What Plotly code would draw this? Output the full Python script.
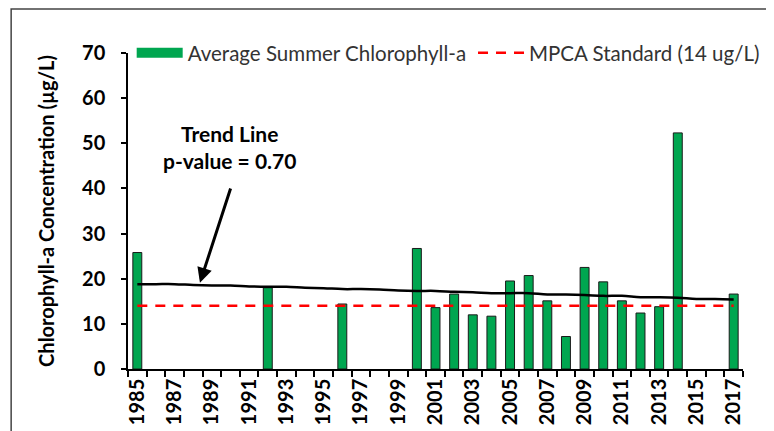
import plotly.graph_objects as go

# ---- data ----
bar_years = [1985, 1992, 1996, 2000, 2001, 2002, 2003, 2004, 2005, 2006, 2007,
             2008, 2009, 2010, 2011, 2012, 2013, 2014, 2017]
chla = [25.8, 18.0, 14.4, 26.7, 13.6, 16.6, 12.0, 11.7, 19.5, 20.7, 15.1,
        7.2, 22.5, 19.3, 15.1, 12.4, 13.8, 52.3, 16.6]

trend_years = list(range(1985, 2018))
trend = [18.8, 18.8, 18.8, 18.6, 18.5, 18.5, 18.3, 18.2, 18.2, 18.0, 17.9,
         17.7, 17.7, 17.6, 17.4, 17.3, 17.3, 17.1, 17.0, 16.8, 16.8, 16.8,
         16.5, 16.5, 16.4, 16.2, 16.2, 15.9, 15.9, 15.8, 15.5, 15.5, 15.4]

std_years = [1985, 2017]
std_value = [14, 14]

tick_years = list(range(1985, 2018, 2))
tick_text = [str(y) for y in tick_years]

FONT = "Lato"
GREEN = "#00A650"

fig = go.Figure()
fig.add_trace(go.Bar(
    x=bar_years, y=chla, name="Average Summer Chlorophyll-a", showlegend=False,
    legendgroup="chla",
    width=0.48, marker=dict(color=GREEN, line=dict(color="#1a1a1a", width=1)),
))
# legend swatch for the bars (wide rectangle like the original)
fig.add_trace(go.Scatter(
    x=[None], y=[None], mode="lines", name="Average Summer Chlorophyll-a",
    legendgroup="chla", legend="legend", line=dict(color=GREEN, width=11),
))
fig.add_trace(go.Scatter(
    x=trend_years, y=trend, mode="lines", showlegend=False,
    line=dict(color="black", width=2.5, shape="spline"),
))
fig.add_trace(go.Scatter(
    x=std_years, y=std_value, mode="lines", name="MPCA Standard (14 ug/L)",
    legend="legend2",
    line=dict(color="#FF0000", width=2.5, dash="10px,8px"),
))

legend_common = dict(orientation="h", xanchor="left", y=1.0, yanchor="middle",
                     bgcolor="rgba(0,0,0,0)", font=dict(size=20.5, color="#333333"),
                     itemwidth=46)

fig.update_layout(
    width=774, height=431,
    margin=dict(l=120, r=39, t=45, b=70),
    paper_bgcolor="white", plot_bgcolor="white",
    font=dict(family=FONT, color="black"),
    showlegend=True,
    legend=dict(x=0.006, **legend_common),
    legend2=dict(x=0.561, **legend_common),
    xaxis=dict(
        range=[1984.5, 2017.5], showline=True, linecolor="black", linewidth=1.5,
        automargin=False,
        tickmode="array", tickvals=tick_years, ticktext=tick_text, ticks="",
        tickangle=-90, tickfont=dict(size=20, family=FONT, weight="bold"),
        minor=dict(tickmode="linear", tick0=1984.5, dtick=1, ticks="outside",
                   ticklen=6, tickcolor="black", tickwidth=1.5),
        showgrid=False, zeroline=False,
    ),
    yaxis=dict(
        range=[0, 70], showline=True, linecolor="black", linewidth=1.5,
        automargin=False,
        tickmode="linear", tick0=0, dtick=10, ticks="outside", ticklen=5,
        tickcolor="black", tickwidth=1.5, ticklabelstandoff=12,
        tickfont=dict(size=20, family=FONT, weight="bold"),
        showgrid=False, zeroline=False,
        title=dict(text="Chlorophyll-a Concentration (µg/L)", standoff=22,
                   font=dict(size=20, family=FONT, weight="bold")),
    ),
    shapes=[dict(type="rect", xref="paper", yref="paper",
                 x0=-0.190, x1=1.0407, y0=-0.4, y1=1.139,
                 line=dict(color="#444444", width=1.5), fillcolor="rgba(0,0,0,0)")],
    annotations=[
        dict(x=1989.92, y=49.2, xref="x", yref="y", showarrow=False,
             text="<b>Trend Line</b><br><b>p-value = 0.70</b>",
             font=dict(size=21, family=FONT, color="black")),
        dict(x=1988.36, y=19.1, xref="x", yref="y", ax=1990.03, ay=40.3,
             axref="x", ayref="y", text="", showarrow=True,
             arrowhead=2, arrowsize=1, arrowwidth=3, arrowcolor="black"),
    ],
)

fig.write_html("out.html")
